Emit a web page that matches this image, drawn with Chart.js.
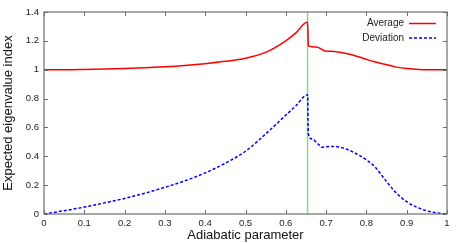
<!DOCTYPE html>
<html>
<head>
<meta charset="utf-8">
<script src="https://cdn.jsdelivr.net/npm/chart.js@4/dist/chart.umd.min.js"></script>
<style>
  html, body { margin: 0; padding: 0; background: #fff; }
  #wrap { width: 463px; height: 243px; }
</style>
</head>
<body>
<div id="wrap"><canvas id="c"></canvas></div>
<script>
// ---------- data ----------
const xs = [0, 0.05, 0.1, 0.15, 0.2, 0.25, 0.3, 0.35, 0.4, 0.45, 0.5, 0.55, 0.6, 0.625, 0.654,
            0.656, 0.665, 0.68, 0.69, 0.7, 0.72, 0.75, 0.78, 0.8, 0.82, 0.85, 0.875, 0.9, 0.925, 0.95, 0.975, 1.0];
const average = [1.0, 1.0, 1.002, 1.005, 1.009, 1.014, 1.021, 1.03, 1.042, 1.058, 1.08, 1.12, 1.2, 1.255, 1.33,
                 1.165, 1.16, 1.155, 1.14, 1.128, 1.127, 1.112, 1.09, 1.072, 1.055, 1.035, 1.018, 1.008, 1.003, 1.0, 1.0, 1.0];
const deviation = [0, 0.023, 0.048, 0.077, 0.108, 0.144, 0.185, 0.23, 0.285, 0.352, 0.435, 0.555, 0.685, 0.75, 0.827,
                   0.555, 0.52, 0.485, 0.462, 0.466, 0.468, 0.45, 0.41, 0.375, 0.33, 0.225, 0.143, 0.085, 0.047, 0.022, 0.007, 0];
const seriesNames = ['Average', 'Deviation'];
const transitionX = 0.654;   // green vertical marker

const xTicks = [0, 0.1, 0.2, 0.3, 0.4, 0.5, 0.6, 0.7, 0.8, 0.9, 1];
const yTicks = [0, 0.2, 0.4, 0.6, 0.8, 1, 1.2, 1.4];

const FONT = '"Liberation Sans", Arial, sans-serif';
const AXIS_COLOR = '#6e6e6e';

const toPoints = (ys) => xs.map((x, i) => ({ x, y: ys[i] }));

// gnuplot style: inward ticks on all four sides, plus the vertical marker
const framePlugin = {
  id: 'frame',
  beforeDatasetsDraw(chart) {
    const { ctx, chartArea: a, scales: { x } } = chart;
    ctx.save();
    ctx.strokeStyle = '#8fd18f';
    ctx.lineWidth = 1.5;
    const gx = x.getPixelForValue(transitionX);
    ctx.beginPath();
    ctx.moveTo(gx, a.top);
    ctx.lineTo(gx, a.bottom);
    ctx.stroke();
    ctx.restore();
  },
  afterDatasetsDraw(chart) {
    const { ctx, chartArea: a, scales: { x, y } } = chart;
    const len = 4;
    ctx.save();
    ctx.strokeStyle = AXIS_COLOR;
    ctx.lineWidth = 1;
    ctx.beginPath();
    for (const t of xTicks) {
      const px = Math.round(x.getPixelForValue(t)) + 0.5;
      ctx.moveTo(px, a.bottom); ctx.lineTo(px, a.bottom - len);
      ctx.moveTo(px, a.top); ctx.lineTo(px, a.top + len);
    }
    for (const t of yTicks) {
      const py = Math.round(y.getPixelForValue(t)) + 0.5;
      ctx.moveTo(a.left, py); ctx.lineTo(a.left + len, py);
      ctx.moveTo(a.right, py); ctx.lineTo(a.right - len, py);
    }
    ctx.stroke();
    ctx.lineWidth = 1.2;
    ctx.strokeRect(a.left, a.top, a.right - a.left, a.bottom - a.top);

    // legend: text first, then line sample (right side)
    ctx.font = '10px ' + FONT;
    ctx.fillStyle = '#222';
    ctx.textAlign = 'right';
    ctx.textBaseline = 'middle';
    chart.data.datasets.forEach((ds, i) => {
      const ly = a.top + 11.5 + i * 14.5;
      const textRight = a.right - 43;
      ctx.fillText(ds.label, textRight, ly);
      ctx.save();
      ctx.strokeStyle = ds.borderColor;
      ctx.lineWidth = ds.borderWidth;
      ctx.setLineDash(ds.borderDash || []);
      ctx.beginPath();
      ctx.moveTo(textRight + 5, ly);
      ctx.lineTo(textRight + 32, ly);
      ctx.stroke();
      ctx.restore();
    });
    ctx.restore();
  }
};

new Chart(document.getElementById('c'), {
  type: 'line',
  data: {
    datasets: [
      {
        label: seriesNames[0],
        data: toPoints(average),
        borderColor: '#ff0000',
        borderWidth: 1.5,
        pointRadius: 0,
        fill: false,
        cubicInterpolationMode: 'monotone',
      },
      {
        label: seriesNames[1],
        data: toPoints(deviation),
        borderColor: '#0000ff',
        borderWidth: 1.5,
        borderDash: [3, 2],
        pointRadius: 0,
        fill: false,
        cubicInterpolationMode: 'monotone',
      },
    ],
  },
  options: {
    animation: false,
    responsive: true,
    maintainAspectRatio: false,
    devicePixelRatio: 1,
    layout: { padding: { top: 12, right: 16, left: 1, bottom: 0 } },
    plugins: {
      legend: { display: false },
      tooltip: { enabled: false },
    },
    scales: {
      x: {
        type: 'linear',
        min: 0,
        max: 1,
        afterBuildTicks: (s) => { s.ticks = xTicks.map((v) => ({ value: v })); },
        afterFit: (s) => { s.height = 29; },
        grid: { display: false, drawTicks: false },
        border: { display: false },
        ticks: {
          color: '#222',
          font: { family: FONT, size: 9.5 },
          padding: 4,
          maxRotation: 0,
          callback: (v) => String(v),
        },
        title: {
          display: true,
          text: 'Adiabatic parameter',
          color: '#111',
          font: { family: FONT, size: 13 },
          padding: { top: 0, bottom: 0 },
        },
      },
      y: {
        min: 0,
        max: 1.4,
        afterBuildTicks: (s) => { s.ticks = yTicks.map((v) => ({ value: v })); },
        afterFit: (s) => { s.width = 43; },
        grid: { display: false, drawTicks: false },
        border: { display: false },
        ticks: {
          color: '#222',
          font: { family: FONT, size: 9.5 },
          padding: 5,
          callback: (v) => String(Math.round(v * 10) / 10),
        },
        title: {
          display: true,
          text: 'Expected eigenvalue index',
          color: '#111',
          font: { family: FONT, size: 13 },
          padding: { top: 0, bottom: 0 },
        },
      },
    },
  },
  plugins: [framePlugin],
});
</script>
</body>
</html>
